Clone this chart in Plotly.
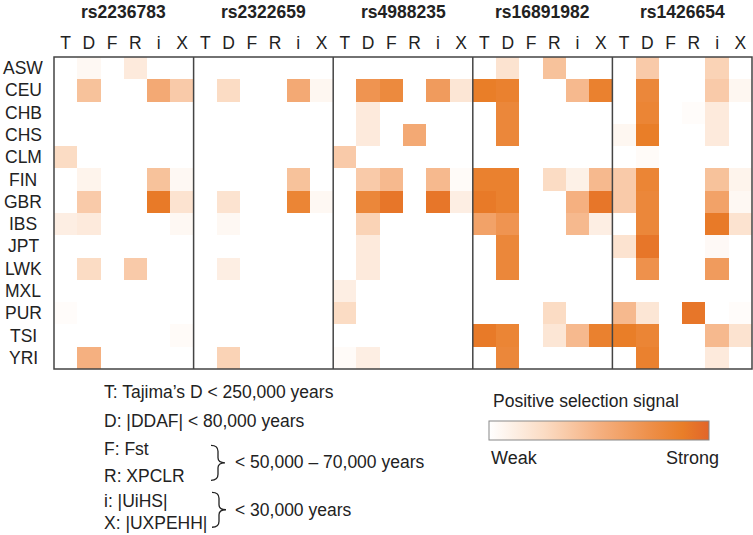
import plotly.graph_objects as go

W, H = 753, 535
snps = ["rs2236783", "rs2322659", "rs4988235", "rs16891982", "rs1426654"]
tests = ["T", "D", "F", "R", "i", "X"]
pops = ["ASW", "CEU", "CHB", "CHS", "CLM", "FIN", "GBR", "IBS", "JPT", "LWK", "MXL", "PUR", "TSI", "YRI"]

# rows: pops, columns: T D F R i X  (0 = no signal, 1 = strong)
rs2236783 = [
    [0, 0.05, 0, 0.15, 0, 0],
    [0, 0.40, 0, 0, 0.55, 0.35],
    [0, 0, 0, 0, 0, 0],
    [0, 0, 0, 0, 0, 0],
    [0.25, 0, 0, 0, 0, 0],
    [0, 0.08, 0, 0, 0.40, 0.05],
    [0, 0.35, 0, 0, 0.90, 0.20],
    [0.12, 0.15, 0, 0, 0, 0.05],
    [0, 0, 0, 0, 0, 0],
    [0, 0.25, 0, 0.35, 0, 0],
    [0, 0, 0, 0, 0, 0],
    [0.02, 0, 0, 0, 0, 0],
    [0, 0, 0, 0, 0, 0.03],
    [0, 0.50, 0, 0, 0, 0],
]
rs2322659 = [
    [0, 0, 0, 0, 0, 0],
    [0, 0.25, 0, 0, 0.55, 0.06],
    [0, 0, 0, 0, 0, 0],
    [0, 0, 0, 0, 0, 0],
    [0, 0, 0, 0, 0, 0],
    [0, 0, 0, 0, 0.40, 0],
    [0, 0.20, 0, 0, 0.82, 0.05],
    [0, 0.05, 0, 0, 0, 0],
    [0, 0, 0, 0, 0, 0],
    [0, 0.12, 0, 0, 0, 0],
    [0, 0, 0, 0, 0, 0],
    [0, 0, 0, 0, 0, 0],
    [0, 0, 0, 0, 0, 0],
    [0, 0.30, 0, 0, 0, 0],
]
rs4988235 = [
    [0, 0, 0, 0, 0, 0],
    [0, 0.70, 0.78, 0, 0.65, 0.18],
    [0, 0.15, 0, 0, 0, 0],
    [0, 0.15, 0, 0.55, 0, 0],
    [0.35, 0, 0, 0, 0, 0],
    [0, 0.35, 0.45, 0, 0.45, 0.03],
    [0, 0.80, 0.92, 0, 0.92, 0.12],
    [0, 0.30, 0, 0, 0, 0],
    [0, 0.15, 0, 0, 0, 0],
    [0, 0.15, 0, 0, 0, 0],
    [0.12, 0, 0, 0, 0, 0],
    [0.25, 0, 0, 0, 0, 0],
    [0, 0, 0, 0, 0, 0],
    [0.03, 0.12, 0, 0, 0, 0],
]
rs16891982 = [
    [0, 0.20, 0, 0.40, 0, 0],
    [0.88, 0.85, 0, 0, 0.45, 0.85],
    [0, 0.80, 0, 0, 0, 0],
    [0, 0.80, 0, 0, 0, 0],
    [0, 0, 0, 0, 0, 0],
    [0.85, 0.85, 0, 0.25, 0.10, 0.45],
    [0.90, 0.85, 0, 0, 0.50, 0.92],
    [0.60, 0.70, 0, 0, 0.45, 0.12],
    [0, 0.80, 0, 0, 0, 0],
    [0, 0.80, 0, 0, 0, 0],
    [0, 0, 0, 0, 0, 0],
    [0, 0, 0, 0.25, 0, 0],
    [0.90, 0.82, 0, 0.18, 0.45, 0.85],
    [0, 0.80, 0, 0, 0, 0],
]
rs1426654 = [
    [0, 0.35, 0, 0, 0.30, 0],
    [0, 0.80, 0, 0, 0.35, 0.06],
    [0, 0.82, 0, 0.02, 0.15, 0],
    [0.06, 0.88, 0, 0, 0.15, 0],
    [0, 0.03, 0, 0, 0, 0],
    [0.35, 0.82, 0, 0, 0.40, 0.08],
    [0.35, 0.80, 0, 0, 0.60, 0.05],
    [0, 0.80, 0, 0, 0.90, 0.20],
    [0.20, 0.92, 0, 0, 0.04, 0],
    [0, 0.72, 0, 0, 0.65, 0],
    [0, 0, 0, 0, 0, 0],
    [0.45, 0.18, 0, 0.92, 0, 0.02],
    [0.88, 0.82, 0, 0, 0.45, 0.20],
    [0, 0.85, 0, 0, 0.15, 0],
]
blocks = [rs2236783, rs2322659, rs4988235, rs16891982, rs1426654]

legend_lines = ["T: Tajima\u2019s D < 250,000 years", "D: |DDAF| < 80,000 years",
                "F: Fst", "R: XPCLR", "i: |UiHS|", "X: |UXPEHH|"]
brace_labels = ["< 50,000 \u2013 70,000 years", "< 30,000 years"]

nt = len(tests)
z = [sum((blk[r] for blk in blocks), []) for r in range(len(pops))]
xs = list(range(nt * len(snps)))

# plot-area pixel geometry
L, R, T, B = 54, 752, 57, 369.5
def px(x):
    return (x - L) / (R - L)
def py(y):
    return (B - y) / (B - T)

FONT = "Liberation Sans, Arial, sans-serif"
cscale = [[0, "#FFFFFF"], [0.25, "#FBDCC4"], [0.5, "#F5B080"], [0.75, "#ED8D45"],
          [0.88, "#E97E28"], [1, "#E2652A"]]

fig = go.Figure(go.Heatmap(
    z=z, x=xs, y=list(range(len(pops))), zmin=0, zmax=1, colorscale=cscale,
    hoverinfo="skip",
    colorbar=dict(orientation="h", lenmode="pixels", len=220, thickness=19,
                  xanchor="left", x=px(489), yanchor="top", y=py(422),
                  xpad=0, ypad=0, outlinecolor="#888888", outlinewidth=1,
                  showticklabels=False, ticks=""),
))

shapes = []
for k in range(1, len(snps)):
    xv = k * nt - 0.5
    shapes.append(dict(type="line", xref="x", yref="paper", x0=xv, x1=xv, y0=0, y1=1,
                       line=dict(color="#444444", width=1.5)))
shapes.append(dict(type="rect", xref="paper", yref="paper", x0=0, x1=1, y0=0, y1=1,
                   line=dict(color="#444444", width=1.5)))

def brace(x0, ytop, ybot, w):
    ym = (ytop + ybot) / 2
    xm = x0 + w * 0.5
    pts = (f"M {px(x0)},{py(ytop)} Q {px(xm)},{py(ytop)} {px(xm)},{py(ytop+6)} "
           f"L {px(xm)},{py(ym-5)} Q {px(xm)},{py(ym)} {px(x0+w)},{py(ym)} "
           f"Q {px(xm)},{py(ym)} {px(xm)},{py(ym+5)} "
           f"L {px(xm)},{py(ybot-6)} Q {px(xm)},{py(ybot)} {px(x0)},{py(ybot)}")
    return dict(type="path", xref="paper", yref="paper", path=pts,
                line=dict(color="#222222", width=1.3))

shapes.append(brace(211, 446, 481, 14))
shapes.append(brace(212, 493, 528, 14))

ann = []
for k, s in enumerate(snps):
    ann.append(dict(text=f"<b>{s}</b>", xref="x", yref="paper", x=k * nt + (nt - 1) / 2,
                    y=py(12), yanchor="middle", showarrow=False,
                    font=dict(size=17.5, color="#222")))
for i, p in enumerate(pops):
    ann.append(dict(text=p, xref="paper", yref="y", x=px(23), y=i, xanchor="center",
                    yanchor="middle", showarrow=False, font=dict(size=17.5, color="#222")))

leg_y = [393, 422, 450, 477, 502, 524]
for t, yy in zip(legend_lines, leg_y):
    ann.append(dict(text=t, xref="paper", yref="paper", x=px(102), y=py(yy),
                    xanchor="left", yanchor="middle", showarrow=False,
                    font=dict(size=17.5, color="#222")))
for t, yy in zip(brace_labels, [463, 511]):
    ann.append(dict(text=t, xref="paper", yref="paper", x=px(233), y=py(yy),
                    xanchor="left", yanchor="middle", showarrow=False,
                    font=dict(size=17.5, color="#222")))
ann.append(dict(text="Positive selection signal", xref="paper", yref="paper", x=px(491),
                y=py(402), xanchor="left", yanchor="middle", showarrow=False,
                font=dict(size=17.5, color="#222")))
ann.append(dict(text="Weak", xref="paper", yref="paper", x=px(489), y=py(459),
                xanchor="left", yanchor="middle", showarrow=False,
                font=dict(size=18, color="#222")))
ann.append(dict(text="Strong", xref="paper", yref="paper", x=px(721), y=py(459),
                xanchor="right", yanchor="middle", showarrow=False,
                font=dict(size=18, color="#222")))

fig.update_layout(
    width=W, height=H, margin=dict(l=L, r=W - R, t=T, b=H - B),
    paper_bgcolor="white", plot_bgcolor="white",
    font=dict(family=FONT, color="#222"),
    shapes=shapes, annotations=ann,
    xaxis=dict(side="top", tickvals=xs, ticktext=tests * len(snps), ticks="",
               tickfont=dict(size=17.5), showgrid=False, zeroline=False,
               range=[-0.5, len(xs) - 0.5], ticklabelstandoff=4),
    yaxis=dict(showticklabels=False, showgrid=False, zeroline=False,
               range=[len(pops) - 0.5, -0.5]),
)
fig.write_html("out.html", config={"displayModeBar": False},
               post_script="document.body.style.margin='0';")
